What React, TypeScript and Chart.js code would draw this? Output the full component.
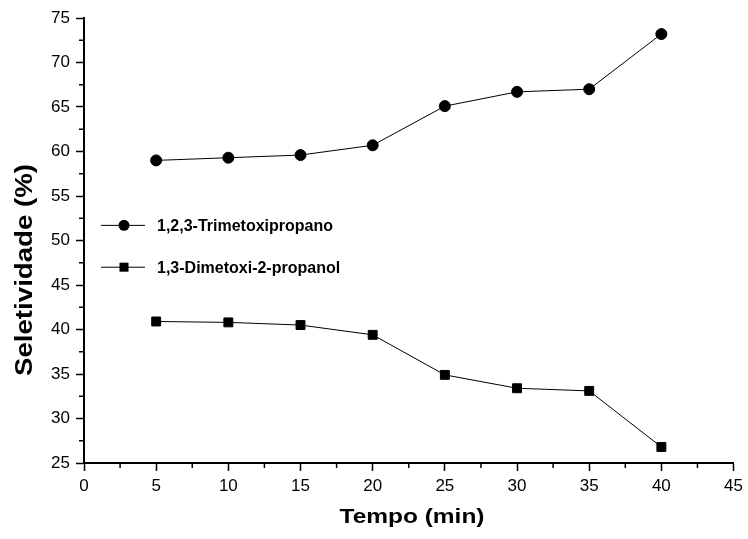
import React, { useEffect, useRef } from "react";
import { Chart, registerables } from "chart.js";

Chart.register(...registerables);

const tempo = [5, 10, 15, 20, 25, 30, 35, 40];
const trimetoxi = [59.0, 59.3, 59.6, 60.7, 65.1, 66.7, 67.0, 73.2];
const dimetoxi = [40.9, 40.8, 40.5, 39.4, 34.9, 33.4, 33.1, 26.8];
const seriesNames = ["1,2,3-Trimetoxipropano", "1,3-Dimetoxi-2-propanol"];
const xTitle = "Tempo (min)";
const yTitle = "Seletividade (%)";

const FONT = "'Liberation Sans', Arial, sans-serif";

const extras = {
  id: "extras",
  afterDraw(chart: any) {
    const ctx = chart.ctx;
    const xs = chart.scales.x;
    const ys = chart.scales.y;
    ctx.save();
    ctx.strokeStyle = "#000";
    ctx.lineWidth = 1.5;
    for (let v = 2.5; v < 45; v += 5) {
      const px = xs.getPixelForValue(v);
      ctx.beginPath();
      ctx.moveTo(px, ys.bottom);
      ctx.lineTo(px, ys.bottom + 5);
      ctx.stroke();
    }
    for (let v = 27.5; v < 75; v += 5) {
      const py = ys.getPixelForValue(v);
      ctx.beginPath();
      ctx.moveTo(xs.left, py);
      ctx.lineTo(xs.left - 5, py);
      ctx.stroke();
    }
    // legend
    const items = [
      { name: seriesNames[0], style: "circle", y: ys.getPixelForValue(51.7) },
      { name: seriesNames[1], style: "rect", y: ys.getPixelForValue(47.0) },
    ];
    ctx.font = `bold 16px ${FONT}`;
    ctx.textBaseline = "middle";
    ctx.textAlign = "left";
    ctx.fillStyle = "#000";
    ctx.lineWidth = 1;
    for (const it of items) {
      ctx.beginPath();
      ctx.moveTo(101, it.y);
      ctx.lineTo(145, it.y);
      ctx.stroke();
      if (it.style === "circle") {
        ctx.beginPath();
        ctx.arc(124, it.y, 5.5, 0, Math.PI * 2);
        ctx.fill();
      } else {
        ctx.fillRect(119.5, it.y - 4.5, 9, 9);
      }
      ctx.fillText(it.name, 157, it.y + 1);
    }
    // axis titles (wide bold face)
    ctx.textAlign = "center";
    ctx.font = `bold 21px ${FONT}`;
    ctx.save();
    ctx.translate(412, 517);
    ctx.scale(145 / ctx.measureText(xTitle).width, 1);
    ctx.fillText(xTitle, 0, 0);
    ctx.restore();
    ctx.font = `bold 23px ${FONT}`;
    ctx.save();
    ctx.translate(26, 270);
    ctx.rotate(-Math.PI / 2);
    ctx.scale(212 / ctx.measureText(yTitle).width, 1);
    ctx.fillText(yTitle, 0, 0);
    ctx.restore();
    ctx.restore();
  },
};

export default function App() {
  const ref = useRef<HTMLCanvasElement>(null);
  useEffect(() => {
    const chart = new Chart(ref.current!, {
      type: "line",
      data: {
        datasets: [
          {
            label: seriesNames[0],
            data: tempo.map((x, i) => ({ x, y: trimetoxi[i] })),
            borderColor: "#000",
            backgroundColor: "#000",
            borderWidth: 1,
            pointStyle: "circle",
            pointRadius: 5.5,
          },
          {
            label: seriesNames[1],
            data: tempo.map((x, i) => ({ x, y: dimetoxi[i] })),
            borderColor: "#000",
            backgroundColor: "#000",
            borderWidth: 1,
            pointStyle: "rect",
            pointRadius: 6.3,
          },
        ],
      },
      options: {
        animation: false,
        responsive: false,
        maintainAspectRatio: false,
        layout: { padding: { left: 0, right: 10, top: 18, bottom: 0 } },
        plugins: { legend: { display: false }, tooltip: { enabled: false } },
        scales: {
          x: {
            type: "linear",
            min: 0,
            max: 45,
            ticks: {
              stepSize: 5,
              color: "#000",
              padding: 5,
              font: { size: 17, family: FONT },
            },
            grid: { drawOnChartArea: false, tickLength: 8, tickColor: "#000", tickWidth: 1.5 },
            border: { color: "#000", width: 2 },
            afterFit(s: any) {
              s.height = 76;
            },
          },
          y: {
            min: 25,
            max: 75,
            ticks: {
              stepSize: 5,
              color: "#000",
              padding: 6,
              font: { size: 17, family: FONT },
            },
            grid: { drawOnChartArea: false, tickLength: 8, tickColor: "#000", tickWidth: 1.5 },
            border: { color: "#000", width: 2 },
            afterFit(s: any) {
              s.width = 84;
            },
          },
        },
      },
      plugins: [extras],
    } as any);
    return () => chart.destroy();
  }, []);
  return (
    <div style={{ position: "absolute", left: 0, top: 0, width: 748, height: 539, background: "#fff" }}>
      <canvas ref={ref} width={748} height={539} />
    </div>
  );
}
